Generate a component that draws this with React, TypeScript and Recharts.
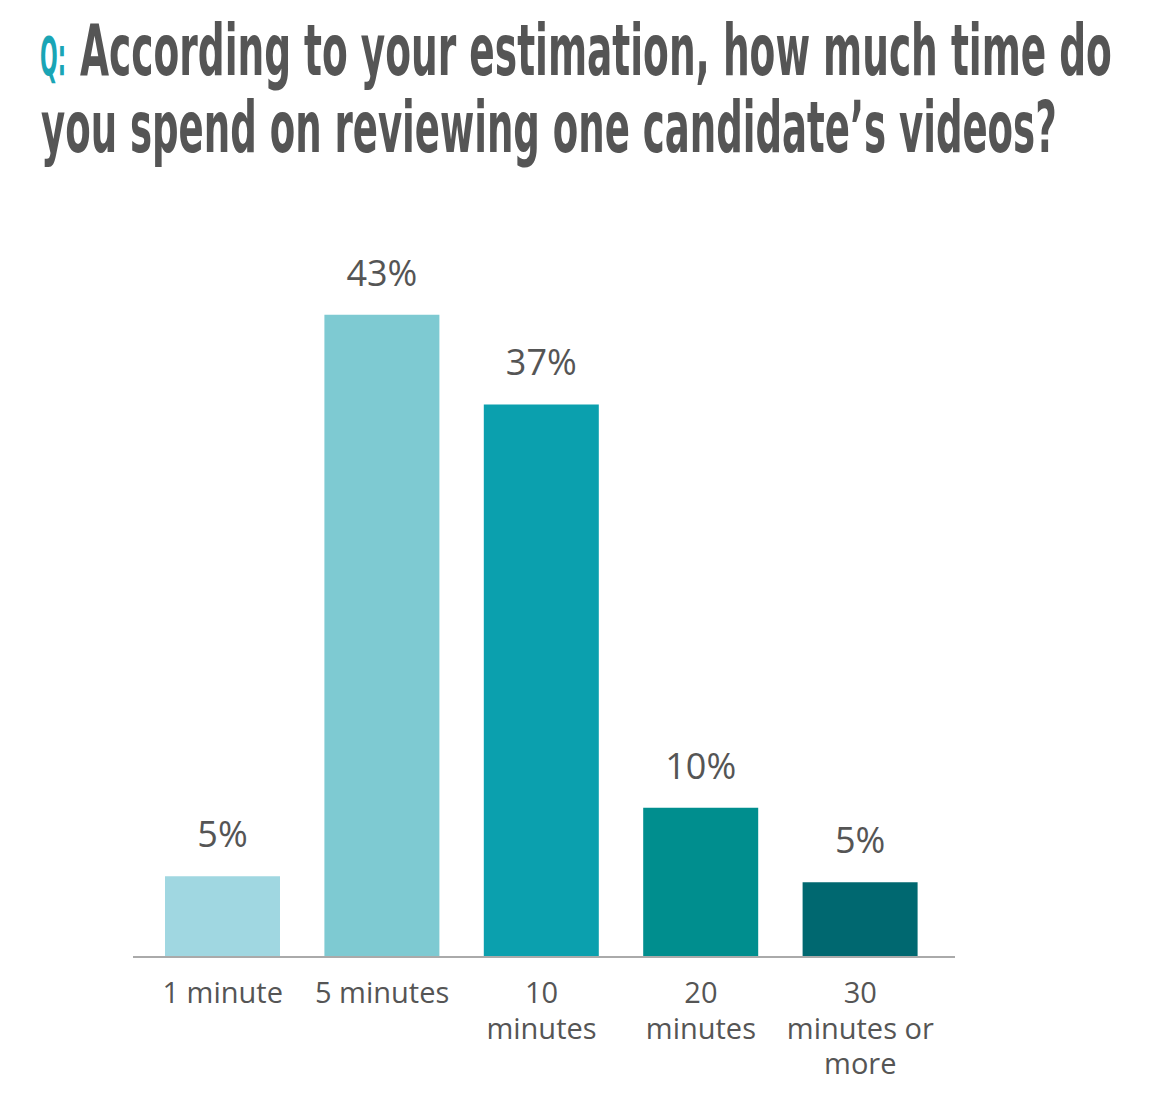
import { useLayoutEffect, useRef, useState } from "react";
import { Bar, BarChart, Cell, LabelList, XAxis, YAxis } from "recharts";

const CATEGORIES = ["1 minute", "5 minutes", "10 minutes", "20 minutes", "30 minutes or more"];
const TICK_LINES = [["1 minute"], ["5 minutes"], ["10", "minutes"], ["20", "minutes"], ["30", "minutes or", "more"]];
const VALUES = [5.4, 43, 37, 10, 5];
const LABELS = ["5%", "43%", "37%", "10%", "5%"];
const COLORS = ["#a0d7e1", "#7ecad2", "#0ba0ae", "#008e8e", "#006870"];

const TEXT = "#555555";
const TEAL = "#1aa5b5";
const TITLE_FONT = "'DejaVu Sans Condensed', 'Liberation Sans Narrow', 'DejaVu Sans', sans-serif";

const data = CATEGORIES.map((name, i) => ({ name, value: VALUES[i], label: LABELS[i] }));

function CategoryTick({ x, y, index }: any) {
  const lines = TICK_LINES[index] ?? [];
  return (
    <text x={x} y={y + 46} textAnchor="middle" fill={TEXT} fontSize={29} fontFamily="'Open Sans', sans-serif">
      {lines.map((line, i) => (
        <tspan key={i} x={x} dy={i === 0 ? 0 : 35.5}>
          {line}
        </tspan>
      ))}
    </text>
  );
}

function ValueLabel({ x, y, width, value }: any) {
  return (
    <text x={x + width / 2} y={y - 29} textAnchor="middle" fill={TEXT} fontSize={36} fontFamily="'Open Sans', sans-serif">
      {value}
    </text>
  );
}

// squeezes a text horizontally so it fills the given width, like the condensed headline font
function FitText({ x, y, width, size, color, children }: any) {
  const ref = useRef<SVGTextElement>(null);
  const [sx, setSx] = useState(1);
  useLayoutEffect(() => {
    if (ref.current) {
      const natural = ref.current.getComputedTextLength();
      if (natural > 0) setSx(width / natural);
    }
  }, [width, children]);
  return (
    <g transform={`translate(${x} ${y}) scale(${sx} 1)`}>
      <text ref={ref} x={0} y={0} fill={color} fontSize={size} fontWeight="bold" fontFamily={TITLE_FONT}>
        {children}
      </text>
    </g>
  );
}

function Title() {
  return (
    <svg width={1164} height={180} style={{ position: "absolute", left: 0, top: 0 }}>
      <FitText x={40} y={75} width={26} size={54} color={TEAL}>
        Q:
      </FitText>
      <FitText x={80} y={75} width={1032} size={72} color={TEXT}>
        According to your estimation, how much time do
      </FitText>
      <FitText x={41} y={152} width={1016} size={72} color={TEXT}>
        you spend on reviewing one candidate’s videos?
      </FitText>
    </svg>
  );
}

export default function App() {
  return (
    <div style={{ position: "absolute", left: 0, top: 0, width: 1164, height: 1102, background: "#fff" }}>
      <Title />
      <div style={{ position: "absolute", left: 0, top: 0 }}>
        <BarChart width={1164} height={1102} data={data} margin={{ top: 285, right: 209, bottom: 15, left: 133 }}>
          <XAxis
            dataKey="name"
            height={130}
            padding={{ left: 10, right: 15 }}
            axisLine={{ stroke: "#aaaaaa", strokeWidth: 2 }}
            tickLine={false}
            tickSize={0}
            tickMargin={0}
            interval={0}
            tick={<CategoryTick />}
          />
          <YAxis hide domain={[0, 45]} />
          <Bar dataKey="value" barSize={115} isAnimationActive={false}>
            {data.map((d, i) => (
              <Cell key={d.name} fill={COLORS[i]} />
            ))}
            <LabelList dataKey="label" content={<ValueLabel />} />
          </Bar>
        </BarChart>
      </div>
    </div>
  );
}
